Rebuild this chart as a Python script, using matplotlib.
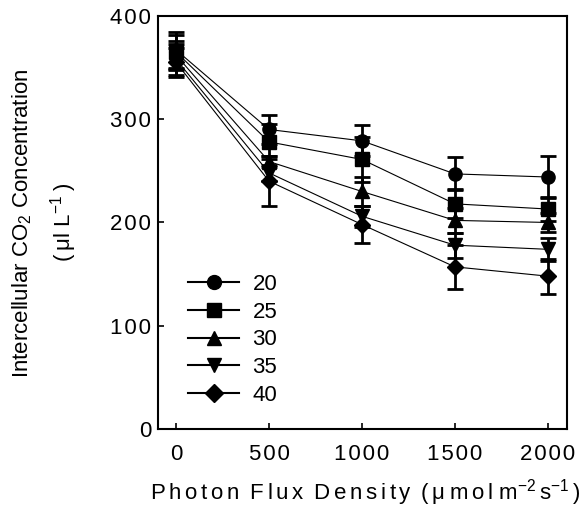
import numpy as np
import matplotlib
matplotlib.use("Agg")
import matplotlib.pyplot as plt
from matplotlib.lines import Line2D
from matplotlib.ticker import FuncFormatter

plt.rcParams['font.family'] = ['Liberation Sans', 'DejaVu Sans']
plt.rcParams['mathtext.fontset'] = 'custom'
plt.rcParams['mathtext.rm'] = 'Liberation Sans'
plt.rcParams['mathtext.it'] = 'Liberation Sans'

ppfd = [0, 500, 1000, 1500, 2000]
temps = ['20', '25', '30', '35', '40']
markers = ['o', 's', '^', 'v', 'D']

ci = {
    '20': [367, 290, 279, 247, 244],
    '25': [365, 278, 261, 218, 213],
    '30': [362, 259, 230, 202, 200],
    '35': [358, 248, 206, 178, 174],
    '40': [355, 240, 198, 157, 148],
}
err = {
    '20': [17, 14, 15, 16, 20],
    '25': [16, 17, 22, 14, 12],
    '30': [14, 5, 14, 12, 9],
    '35': [15, 8, 10, 12, 11],
    '40': [14, 24, 18, 21, 17],
}


def spaced(s, gap='\u200a'):
    # fake letter spacing with hair spaces
    return gap.join(s)


fig = plt.figure(figsize=(5.82, 5.12), dpi=100)
ax = fig.add_axes([0.2715, 0.162, 0.7025, 0.807])

for t, m in zip(temps, markers):
    ms = 8.5 if m == 'D' else 9.5
    ax.errorbar(ppfd, ci[t], yerr=err[t], fmt='-' + m, color='black',
                lw=0.8, ms=ms, elinewidth=2, capsize=6, capthick=2)

ax.set_xlim(-97, 2102)
ax.set_ylim(0, 400)
ax.set_xticks(ppfd)
ax.set_yticks([0, 100, 200, 300, 400])
fmt = FuncFormatter(lambda v, p: spaced('%d' % v))
ax.xaxis.set_major_formatter(fmt)
ax.yaxis.set_major_formatter(fmt)
ax.tick_params(direction='in', length=4, width=1.2)
ax.tick_params(axis='x', labelsize=16, pad=11)
ax.tick_params(axis='y', labelsize=16, pad=5)
for s in ax.spines.values():
    s.set_linewidth(1.5)

hh = '\u200a\u200a'
words = [spaced(w, hh) for w in ['Photon', 'Flux', 'Density']]
xlab = (' \u2009'.join(words) + ' \u2009' + spaced('(μ', hh) + '\u2009'
        + spaced('mol', hh) + ' ' + 'm$^{-2}$' + hh + 's$^{-1}$' + hh + ')')
fig.text(365 / 582, 1 - 493 / 512, xlab, fontsize=16, ha='center', va='center')
fig.text(22 / 582, 1 - 223 / 512, 'Intercellular CO$_2$ Concentration', fontsize=16,
         rotation=90, ha='center', va='center')
fig.text(64 / 582, 1 - 222 / 512, '(\u2009μl L$^{-1}$\u2009)', fontsize=16,
         rotation=90, ha='center', va='center')

handles = [Line2D([], [], color='black', lw=1.5, marker=m,
                  ms=(9 if m == 'D' else 10)) for m in markers]
ax.legend(handles, temps, loc='lower left', bbox_to_anchor=(0.052, 0.035),
          frameon=False, fontsize=16, handlelength=2.3, labelspacing=0.3,
          handletextpad=0.6, borderaxespad=0)

fig.savefig('out.png', dpi=100)
